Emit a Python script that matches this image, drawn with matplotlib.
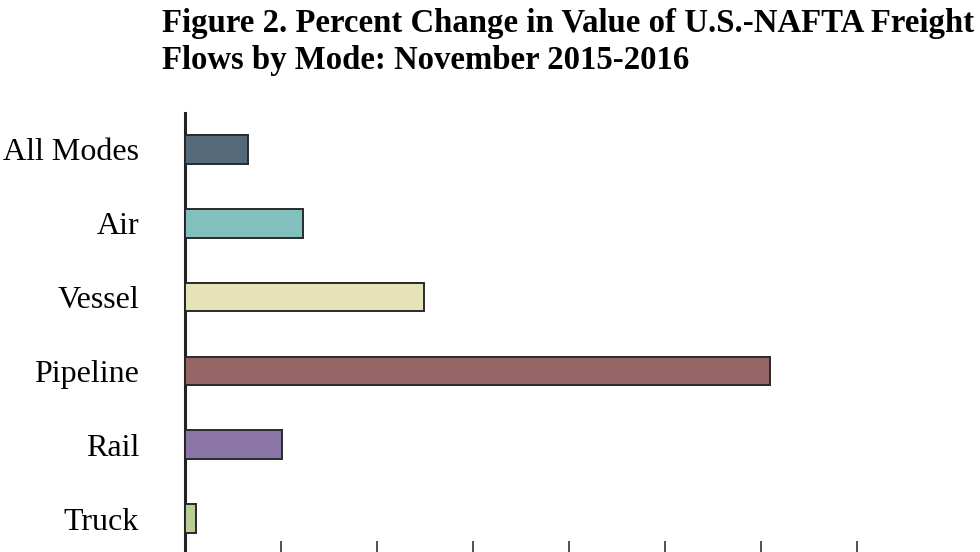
import matplotlib
matplotlib.use('Agg')
import matplotlib.pyplot as plt

# data (percent change)
modes  = ['All Modes', 'Air', 'Vessel', 'Pipeline', 'Rail', 'Truck']
values = [0.66, 1.23, 2.49, 6.09, 1.01, 0.11]
colors = ['#546a7b', '#82c0be', '#e6e3b8', '#956566', '#8a75a6', '#b8cf94']
xticks = [0, 1, 2, 3, 4, 5, 6, 7]

plt.rcParams['font.family'] = ['Liberation Serif', 'DejaVu Serif']

W, H = 980, 552
fig = plt.figure(figsize=(W / 100, H / 100), dpi=100)
# axes runs a bit below the picture, like the cropped source
ax = fig.add_axes([185 / W, -3.5 / H, (857 - 185) / W, (555.5 - 112.5) / H])

ax.barh(range(len(modes)), values, height=0.39, color=colors,
		edgecolor='#2a2a2a', linewidth=1.4, zorder=3)

ax.set_ylim(len(modes) - 0.5, -0.5)
ax.set_xlim(0, 7)
ax.set_yticks(range(len(modes)))
ax.set_yticklabels(modes, fontsize=23)
ax.set_xticks(xticks)
ax.set_xticklabels([])
ax.tick_params(axis='y', length=0, pad=33)
ax.tick_params(axis='x', direction='in', length=10.5, width=1.1, color='#222222')

for s in ['top', 'right', 'bottom']:
	ax.spines[s].set_visible(False)
ax.spines['left'].set_linewidth(2.2)
ax.spines['left'].set_color('#222222')

fig.text(162 / W, 1 - 8 / H,
		 'Figure 2. Percent Change in Value of U.S.-NAFTA Freight\nFlows by Mode: November 2015-2016',
		 fontsize=23.6, fontweight='bold', va='top', ha='left', linespacing=1.25)

fig.savefig('out.png', dpi=100)
